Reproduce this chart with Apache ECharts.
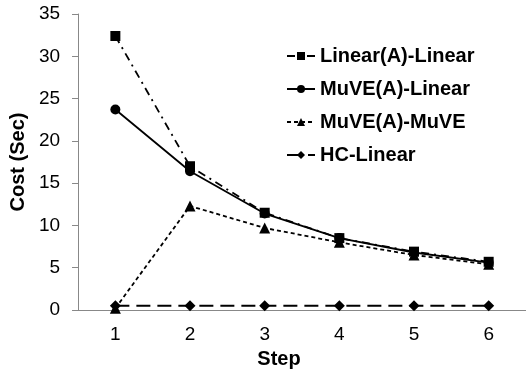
<!DOCTYPE html>
<html><head><meta charset="utf-8">
<script src="https://cdn.jsdelivr.net/npm/echarts@6/dist/echarts.min.js"></script>
<style>html,body{margin:0;padding:0;background:#fff}#c{width:526px;height:379px}</style>
</head><body><div id="c"></div>
<script>
const categories = ['1','2','3','4','5','6'];
const linearALinear = [32.4, 17.0, 11.5, 8.5, 6.9, 5.7];
const muveALinear = [23.7, 16.4, 11.4, 8.5, 6.8, 5.6];
const muveAMuve = [0.2, 12.3, 9.7, 8.0, 6.5, 5.4];
const hcLinear = [0.5, 0.5, 0.5, 0.5, 0.5, 0.5];
const names = ['Linear(A)-Linear','MuVE(A)-Linear','MuVE(A)-MuVE','HC-Linear'];

const font = 'Liberation Sans, Arial, sans-serif';
const chart = echarts.init(document.getElementById('c'));
function s(name, data, symbol, size, type) {
  return {name, type:'line', data, symbol, symbolSize:size,
    lineStyle:{color:'#000', width:1.8, type},
    itemStyle:{color:'#000'}, emphasis:{disabled:true}};
}
chart.setOption({
  animation:false,
  grid:{left:78, top:14, width:456, height:296},
  legend:{orient:'vertical', left:281, top:41, itemGap:13, itemWidth:28, itemHeight:10,
    textStyle:{fontFamily:font, fontSize:20, fontWeight:'bold', color:'#000'},
    data:names},
  xAxis:{type:'category', data:categories, boundaryGap:true,
    name:'Step', nameLocation:'middle', nameGap:39,
    nameTextStyle:{fontFamily:font, fontSize:20, fontWeight:'bold', color:'#000', padding:[0,46,0,0]},
    axisLine:{lineStyle:{color:'#888'}}, axisTick:{lineStyle:{color:'#888'}, length:6},
    axisLabel:{fontFamily:font, fontSize:19, color:'#000', margin:15}},
  yAxis:{type:'value', min:0, max:35, interval:5,
    name:'Cost (Sec)', nameLocation:'middle', nameGap:45,
    nameTextStyle:{fontFamily:font, fontSize:20, fontWeight:'bold', color:'#000'},
    axisLine:{show:true, lineStyle:{color:'#888'}}, axisTick:{show:true, lineStyle:{color:'#888'}, length:6},
    splitLine:{show:false},
    axisLabel:{fontFamily:font, fontSize:19, color:'#000', margin:18}},
  series:[
    s(names[0], linearALinear, 'rect', 10, [8,5,2,5]),
    s(names[1], muveALinear, 'circle', 10, 'solid'),
    s(names[2], muveAMuve, 'triangle', 11, [4,3]),
    s(names[3], hcLinear, 'diamond', 11, [14,7])
  ]
});
</script></body></html>
